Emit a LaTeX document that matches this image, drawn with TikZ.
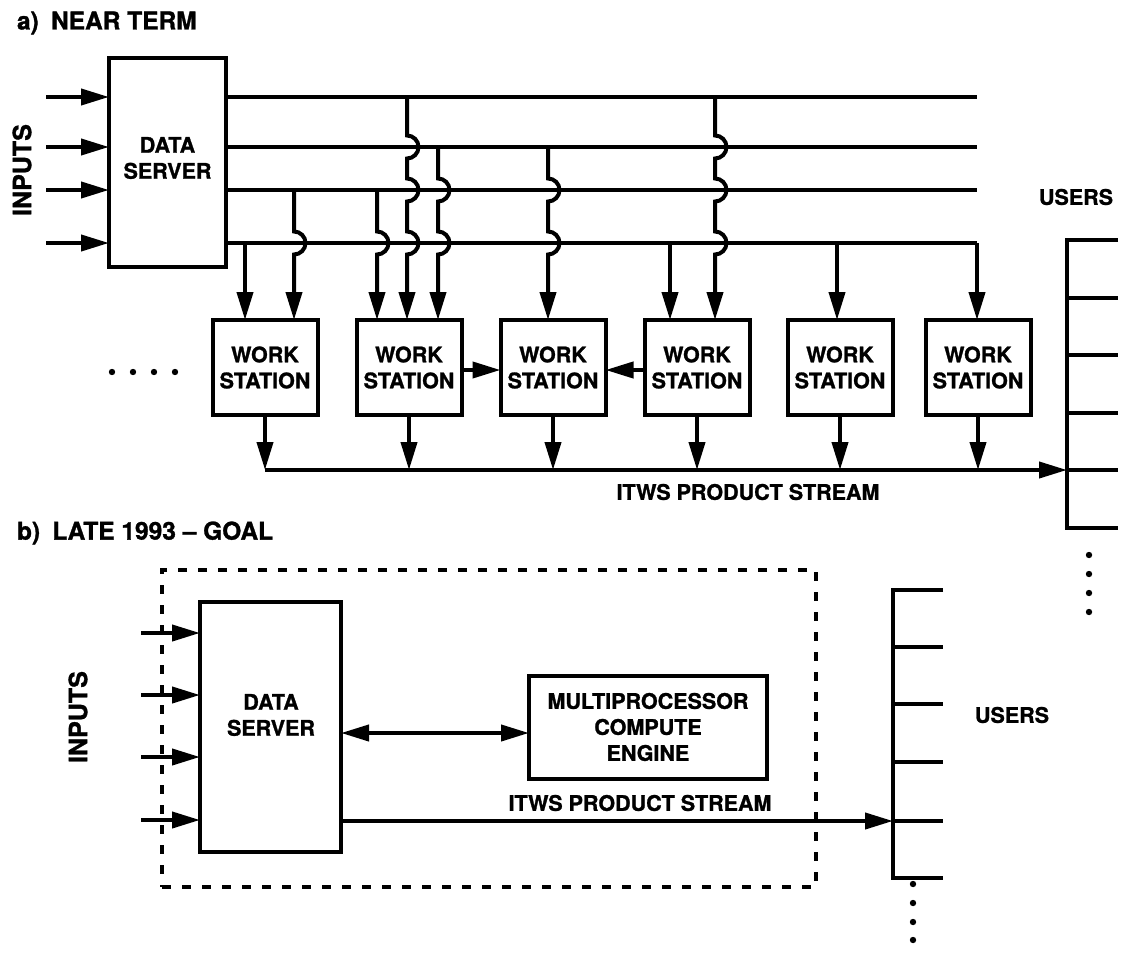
\documentclass[tikz,border=0pt]{standalone}
\usepackage{fontspec}
\setmainfont{TeX Gyre Heros}[BoldFeatures={FakeBold=1.2}]
\usetikzlibrary{arrows.meta}
\begin{document}
\begin{tikzpicture}[x=1pt,y=-1pt,
  every node/.style={font=\fontsize{21.5}{26}\selectfont\bfseries, inner sep=0pt, outer sep=0pt, align=center},
  ln/.style={line width=4pt},
  tip/.style={-{Triangle[length=28pt,width=16pt]}},
  dtip/.style={{Triangle[length=28pt,width=16pt]}-{Triangle[length=28pt,width=16pt]}},
  box/.style={draw, line width=4pt},
  wsbox/.style={box, minimum width=105pt, minimum height=95pt},
  head/.style={anchor=west, font=\fontsize{24.5}{28}\selectfont\bfseries},
  vlab/.style={rotate=90, font=\fontsize{25}{28}\selectfont\bfseries},
  dot/.style={fill=black}
]
\useasboundingbox (0,0) rectangle (1130,961);

% ---------- a) NEAR TERM ----------
\node[head] (ha) at (17,23) {a)\enspace NEAR TERM};
\node[vlab] (inA) at (22,170) {INPUTS};

\node[box, minimum width=117pt, minimum height=209pt] (ds1) at (167.5,162.5) {};
\node (ds1t) at (167.5,158) {DATA\\SERVER};

\foreach \y [count=\i] in {97,147,190,243}{
  \coordinate (ia\i) at (46,\y);
  \draw[ln,tip] (ia\i) -- (ia\i -| ds1.west);
  \coordinate (be\i) at (977,\y);
}
\draw[ln] (be1 -| ds1.east) -- (be1);
\draw[ln] (be2 -| ds1.east) -- (be2);
\draw[ln] (be3 -| ds1.east) -- (be3);
\draw[ln] (be4 -| ds1.east) -- (be4);

% work stations
\node[wsbox] (ws1) at (265,367.5) {WORK\\STATION};
\node[wsbox] (ws2) at (409,367.5) {WORK\\STATION};
\node[wsbox] (ws3) at (553,367.5) {WORK\\STATION};
\node[wsbox] (ws4) at (697,367.5) {WORK\\STATION};
\node[wsbox] (ws5) at (840,367.5) {WORK\\STATION};
\node[wsbox] (ws6) at (978,367.5) {WORK\\STATION};

\def\r{11.5}
% drops into WS1
\draw[ln,tip] (245,243) -- (ws1.north -| 245,0);
\draw[ln,tip] (294,190) -- (294,243-\r) arc[start angle=-90,end angle=90,radius=\r] -- (ws1.north -| 294,0);
% drops into WS2
\draw[ln,tip] (377,190) -- (377,243-\r) arc[start angle=-90,end angle=90,radius=\r] -- (ws2.north -| 377,0);
\draw[ln,tip] (407,97) -- (407,147-\r) arc[start angle=-90,end angle=90,radius=\r]
   -- (407,190-\r) arc[start angle=-90,end angle=90,radius=\r]
   -- (407,243-\r) arc[start angle=-90,end angle=90,radius=\r] -- (ws2.north -| 407,0);
\draw[ln,tip] (438,147) -- (438,190-\r) arc[start angle=-90,end angle=90,radius=\r]
   -- (438,243-\r) arc[start angle=-90,end angle=90,radius=\r] -- (ws2.north -| 438,0);
% drops into WS3
\draw[ln,tip] (548,147) -- (548,190-\r) arc[start angle=-90,end angle=90,radius=\r]
   -- (548,243-\r) arc[start angle=-90,end angle=90,radius=\r] -- (ws3.north -| 548,0);
% drops into WS4
\draw[ln,tip] (670,243) -- (ws4.north -| 670,0);
\draw[ln,tip] (715,97) -- (715,147-\r) arc[start angle=-90,end angle=90,radius=\r]
   -- (715,190-\r) arc[start angle=-90,end angle=90,radius=\r]
   -- (715,243-\r) arc[start angle=-90,end angle=90,radius=\r] -- (ws4.north -| 715,0);
% drops into WS5, WS6
\draw[ln,tip] (837,243) -- (ws5.north -| 837,0);
\draw[ln,tip] (be4) -- (ws6.north -| be4);

% lateral arrows
\draw[ln,tip] (ws2.east |- 0,370) -- (ws3.west |- 0,370);
\draw[ln,tip] (ws4.west |- 0,370) -- (ws3.east |- 0,370);

% left dots
\foreach \x in {112,133,154,175}{ \fill[dot] (\x,372) circle[radius=3.2pt]; }

% product stream
\coordinate (bus0) at (ws1.south |- 0,470);
\coordinate (ua) at (1067,470);
\foreach \w in {ws1,ws2,ws3,ws4,ws5,ws6}{
  \draw[ln,tip] (\w.south) -- (\w.south |- bus0);
}
\draw[ln,tip] (bus0) -- (ua);
\node (psa) at (748,492) {ITWS PRODUCT STREAM};

% users bracket a
\draw[ln] (1118,240) -- (1067,240) -- (1067,528) -- (1118,528);
\foreach \y in {298,355,413,470}{ \draw[ln] (1067,\y) -- (1118,\y); }
\node (usa) at (1076,197) {USERS};
\foreach \y in {555,574,593,612}{ \fill[dot] (1089,\y) circle[radius=3.2pt]; }

% ---------- b) LATE 1993 -- GOAL ----------
\node[head] (hb) at (17,533) {b)\enspace LATE 1993 -- GOAL};
\node[vlab] (inB) at (78,717) {INPUTS};

\node[draw, line width=4pt, dash pattern=on 9pt off 11pt, minimum width=654pt, minimum height=317pt] (grp) at (489,728.5) {};

\node[box, minimum width=141pt, minimum height=250pt] (ds2) at (270.5,727) {};
\node (ds2t) at (271,715) {DATA\\SERVER};

\foreach \y [count=\i] in {633,695,757,820}{
  \coordinate (ib\i) at (141,\y);
  \draw[ln,tip] (ib\i) -- (ib\i -| ds2.west);
}

\node[box, minimum width=238pt, minimum height=103pt] (mp) at (648,727) {MULTIPROCESSOR\\COMPUTE\\ENGINE};
\draw[ln,dtip] (ds2.east |- 0,733) -- (mp.west |- 0,733);

\coordinate (ub) at (893,821);
\draw[ln,tip] (ds2.east |- ub) -- (ub);
\node (psb) at (640,803) {ITWS PRODUCT STREAM};

\draw[ln] (943,590) -- (893,590) -- (893,878) -- (943,878);
\foreach \y in {647,704,762,821}{ \draw[ln] (893,\y) -- (943,\y); }
\node (usb) at (1012,715) {USERS};
\foreach \y in {884,903,922,940}{ \fill[dot] (913,\y) circle[radius=3.2pt]; }
\end{tikzpicture}
\end{document}
